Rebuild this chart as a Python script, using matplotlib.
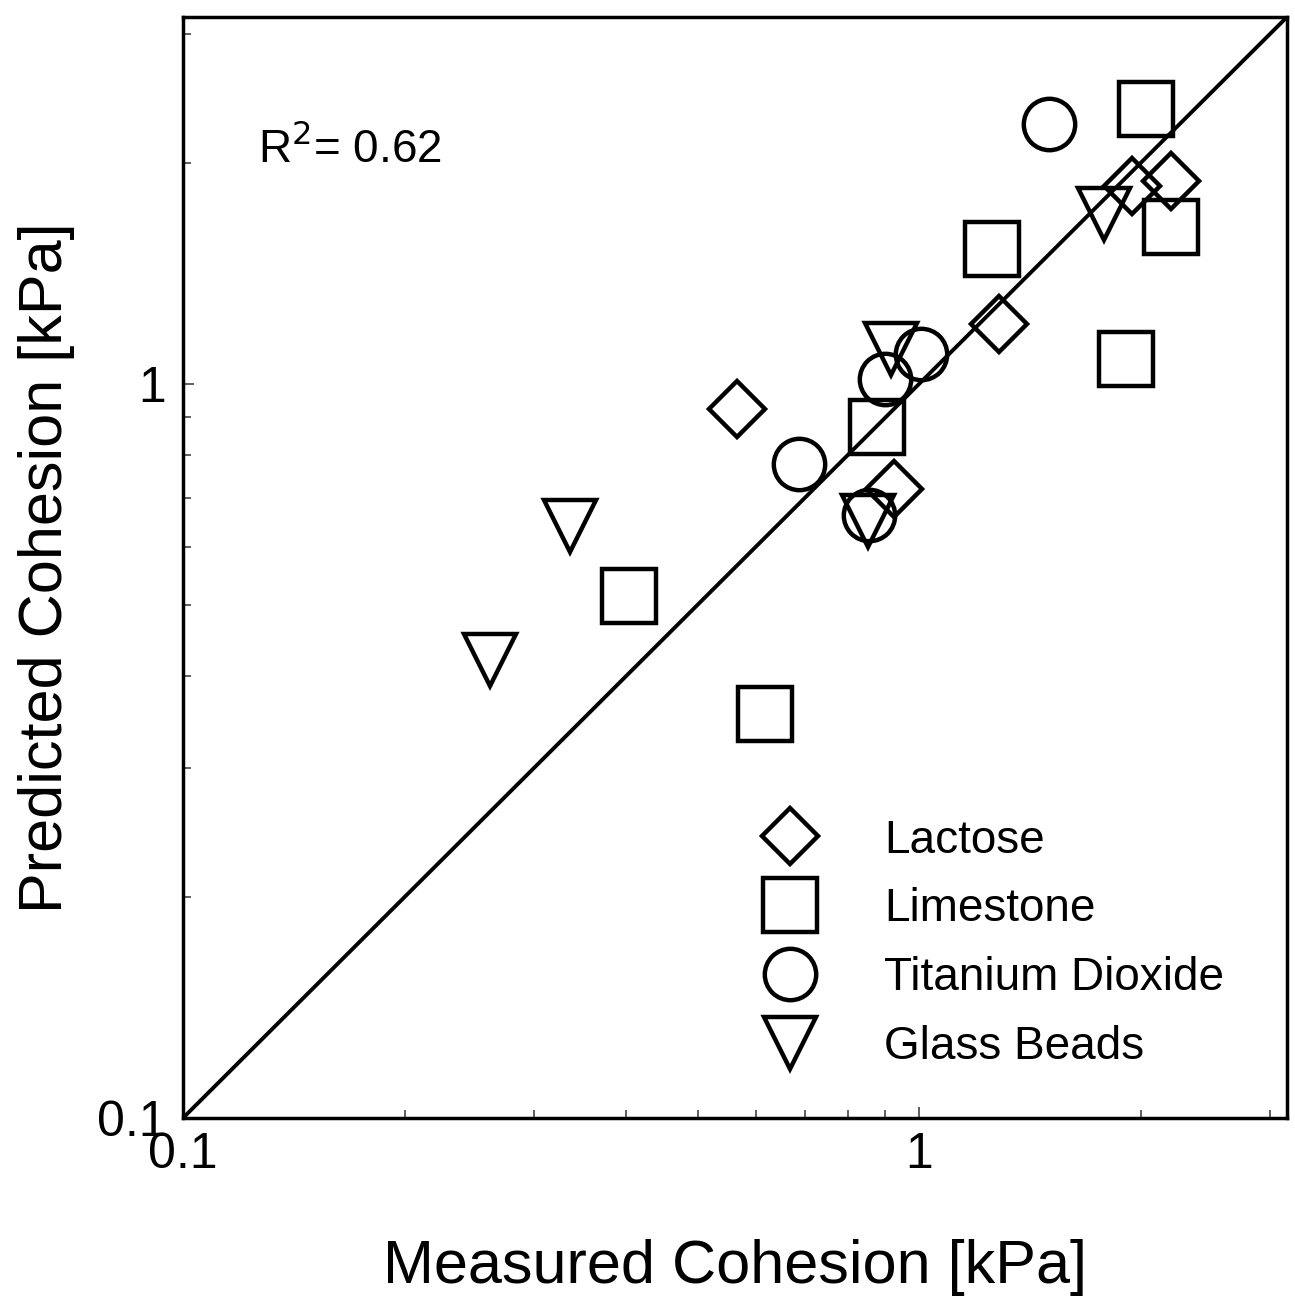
import matplotlib
matplotlib.use("Agg")
import matplotlib.pyplot as plt
from matplotlib.ticker import LogLocator, NullFormatter

plt.rcParams['font.family'] = ['Liberation Sans', 'DejaVu Sans']

# Data (measured, predicted) in kPa
lactose_x = [0.566, 0.925, 1.284, 1.945, 2.20]
lactose_y = [0.925, 0.719, 1.207, 1.862, 1.89]

limestone_x = [0.404, 0.618, 0.877, 1.256, 1.91, 2.03, 2.20]
limestone_y = [0.514, 0.355, 0.874, 1.528, 1.081, 2.37, 1.636]

tio2_x = [0.687, 0.855, 0.899, 1.006, 1.50]
tio2_y = [0.778, 0.663, 1.016, 1.099, 2.26]

glass_x = [0.261, 0.335, 0.851, 0.917, 1.78]
glass_y = [0.421, 0.640, 0.650, 1.116, 1.706]

series_labels = ["Lactose", "Limestone", "Titanium Dioxide", "Glass Beads"]
axis_min, axis_max = 0.1, 3.16
r2_text = "R$^2$= 0.62"

fig = plt.figure(figsize=(12.95, 13.04), dpi=100)
ax = fig.add_axes([183/1295, 1 - 1118/1304, (1287-183)/1295, (1118-17)/1304])

ax.set_xscale('log')
ax.set_yscale('log')

ax.plot([axis_min, axis_max], [axis_min, axis_max], color='black', lw=2.8, zorder=1)

common = dict(linestyle='none', markerfacecolor='none', markeredgecolor='black',
              markeredgewidth=3.2, zorder=3)
ax.plot(lactose_x, lactose_y, marker='D', markersize=29, label=series_labels[0], **common)
ax.plot(limestone_x, limestone_y, marker='s', markersize=39, label=series_labels[1], **common)
ax.plot(tio2_x, tio2_y, marker='o', markersize=37, label=series_labels[2], **common)
ax.plot(glass_x, glass_y, marker='v', markersize=38, label=series_labels[3], **common)

ax.set_xlim(axis_min, axis_max)
ax.set_ylim(axis_min, axis_max)

ax.set_xticks([0.1, 1])
ax.set_xticklabels(["0.1", "1"])
ax.set_yticks([0.1, 1])
ax.set_yticklabels(["0.1", "1"])
ax.xaxis.set_minor_locator(LogLocator(base=10, subs=range(2, 10)))
ax.yaxis.set_minor_locator(LogLocator(base=10, subs=range(2, 10)))
ax.xaxis.set_minor_formatter(NullFormatter())
ax.yaxis.set_minor_formatter(NullFormatter())
ax.tick_params(which='both', direction='in', width=1.2, color='#444444')
ax.tick_params(which='major', length=8, labelsize=36)
ax.tick_params(axis='y', which='major', pad=12)
ax.tick_params(axis='x', which='major', pad=10)
ax.tick_params(which='minor', length=6)

for s in ax.spines.values():
    s.set_linewidth(2.5)

ax.set_xlabel("Measured Cohesion [kPa]", fontsize=44, labelpad=44)
ax.set_ylabel("Predicted Cohesion [kPa]", fontsize=44)
ax.yaxis.set_label_coords(-0.098, 0.5)

ax.text(0.068, 0.88, r2_text, transform=ax.transAxes, fontsize=33, va='center', ha='left')

leg = ax.legend(loc='upper left', bbox_to_anchor=(0.529, 0.272), frameon=False,
                fontsize=33, handlelength=1.0, handletextpad=1.55, labelspacing=0.54,
                borderpad=0, borderaxespad=0)

fig.savefig("out.png", dpi=100)
